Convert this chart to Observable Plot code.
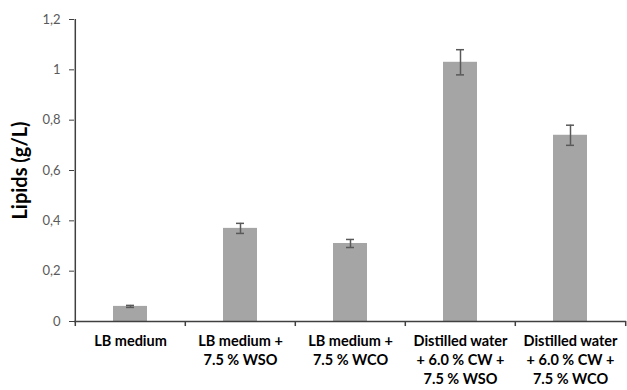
<!DOCTYPE html>
<html>
<head>
<meta charset="utf-8">
<script src="https://cdn.jsdelivr.net/npm/d3@7"></script>
<script src="https://cdn.jsdelivr.net/npm/@observablehq/plot@0.6"></script>
<style>
  html, body { margin: 0; padding: 0; background: #fff; }
  #chart { width: 627px; height: 390px; }
  svg { font-family: Lato, "Open Sans", sans-serif; }
</style>
</head>
<body>
<div id="chart"></div>
<script>
const categories = [
  "LB medium",
  "LB medium +\n7.5 % WSO",
  "LB medium +\n7.5 % WCO",
  "Distilled water\n+ 6.0 % CW +\n7.5 % WSO",
  "Distilled water\n+ 6.0 % CW +\n7.5 % WCO"
];
const lipids = [0.06, 0.37, 0.31, 1.03, 0.74];
const errors = [0.004, 0.02, 0.016, 0.05, 0.04];
const yTicks = [0, 0.2, 0.4, 0.6, 0.8, 1, 1.2];
const yTitle = "Lipids (g/L)";

const data = categories.map((c, i) => ({cat: c, v: lipids[i], e: errors[i]}));

const W = 627, H = 390, mL = 74, mR = 1, mT = 19, mB = 69;
const step = (W - mL - mR) / categories.length;

const chart = Plot.plot({
  width: W,
  height: H,
  marginLeft: mL,
  marginRight: mR,
  marginTop: mT,
  marginBottom: mB,
  style: {fontFamily: "Lato, 'Open Sans', sans-serif", background: "#fff"},
  x: {domain: categories, padding: 0},
  y: {domain: [0, 1.2]},
  marks: [
    Plot.barY(data, {x: "cat", y: "v", fill: "#a5a5a5", insetLeft: 38, insetRight: 38}),
    Plot.ruleX(data, {x: "cat", y1: d => d.v - d.e, y2: d => d.v + d.e, stroke: "#595959", strokeWidth: 1.5}),
    Plot.tickY(data, {x: "cat", y: d => d.v + d.e, stroke: "#595959", strokeWidth: 1.5, insetLeft: 51, insetRight: 51}),
    Plot.tickY(data, {x: "cat", y: d => d.v - d.e, stroke: "#595959", strokeWidth: 1.5, insetLeft: 51, insetRight: 51}),
    Plot.axisY({
      ticks: yTicks,
      tickFormat: d => String(d).replace(".", ","),
      tickSize: 5,
      tickPadding: 9,
      fontSize: 13,
      color: "#595959",
      stroke: "#404040",
      label: null
    }),
    Plot.axisX({
      tickSize: 0,
      tickPadding: 11,
      fontSize: 14.5,
      fontWeight: "bold",
      lineHeight: 1.32,
      color: "#000",
      label: null
    }),
    // axis lines
    Plot.ruleY([0], {stroke: "#404040", strokeWidth: 1.5}),
    Plot.ruleX([categories[0]], {x: d => d, dx: -step / 2, y1: 0, y2: 1.2, stroke: "#404040", strokeWidth: 1.5}),
    // category boundary tick marks
    Plot.ruleX(categories, {x: d => d, dx: -step / 2, y1: 0, y2: -0.02, stroke: "#404040", strokeWidth: 1.5}),
    Plot.ruleX([categories[categories.length - 1]], {x: d => d, dx: step / 2, y1: 0, y2: -0.02, stroke: "#404040", strokeWidth: 1.5}),
    Plot.text([yTitle], {frameAnchor: "left", textAnchor: "middle", rotate: -90, dx: -54, fontSize: 20, fontWeight: "bold", fill: "#000"})
  ]
});
document.getElementById("chart").appendChild(chart);
</script>
</body>
</html>
